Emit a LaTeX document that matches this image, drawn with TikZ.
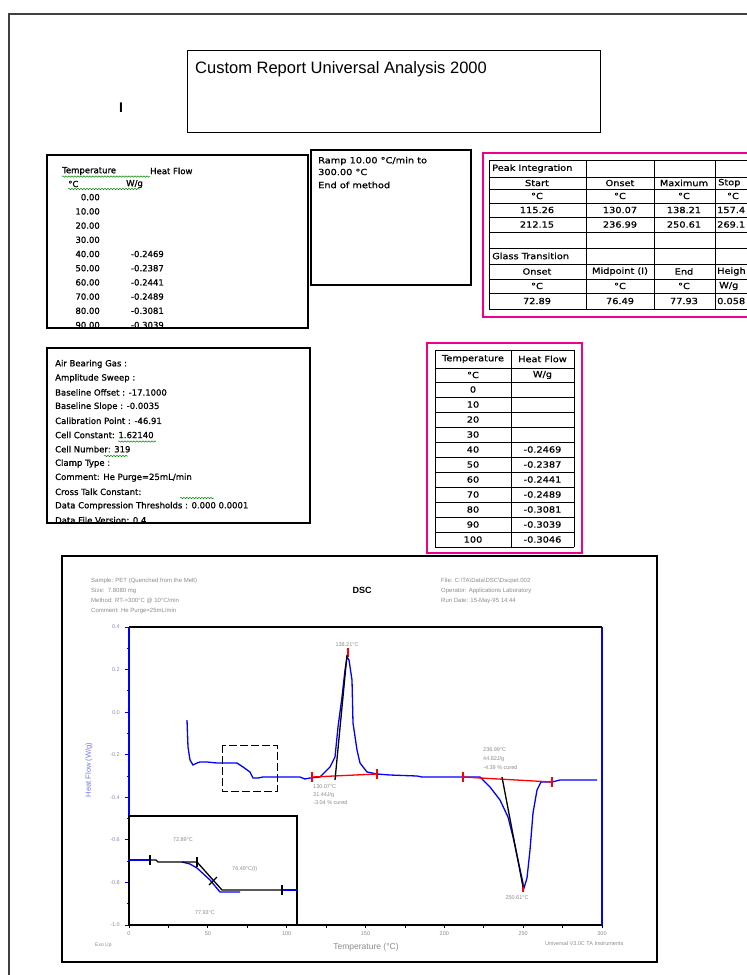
\documentclass[tikz,border=0pt]{standalone}
\usepackage{fontspec}
\setmainfont{Liberation Sans}
\newfontfamily\boxfont[FakeBold=0.8]{DejaVu Sans}
\newfontfamily\tablefont[FakeStretch=1.15, FakeBold=0.8]{DejaVu Sans}
\usetikzlibrary{decorations.pathmorphing}

\begin{document}
\begin{tikzpicture}[x=1pt, y=-1pt]

\tikzstyle{frame} = [draw, line width=1.3pt]
\tikzstyle{pinkframe} = [draw=magenta, line width=1.3pt]
\tikzstyle{rule} = [draw, line width=0.9pt]
\tikzstyle{entry} = [anchor=west, inner sep=0pt, font=\boxfont\fontsize{8.5}{10}\selectfont]
\tikzstyle{cell} = [inner sep=0pt, font=\tablefont\fontsize{8.5}{10}\selectfont]
\tikzstyle{note} = [anchor=west, inner sep=0pt, text=black!45, font=\fontsize{6}{7}\selectfont]
\tikzstyle{ticklabel} = [inner sep=0pt, text=black!45, font=\fontsize{5.5}{6}\selectfont]
\tikzstyle{flow} = [blue, line width=1.3pt]
\tikzstyle{redline} = [red, line width=1.3pt]
\tikzstyle{onsetline} = [black, line width=1.3pt]
\tikzstyle{spell} = [green!55!black, line width=0.5pt, decorate, decoration={snake, amplitude=0.7pt, segment length=3pt}]

\clip (0,0) rectangle (747,975);
\fill[white] (0,0) rectangle (747,975);
\draw[line width=2.2pt, black!75] (9,975) -- (9,14) -- (747,14);

\draw[frame, line width=1pt] (187,50) rectangle (600,132);
\node (title) [anchor=west, inner sep=0pt, font=\fontsize{16.5}{20}\selectfont] at (195,69) {Custom Report Universal Analysis 2000};
\node (cursor) [inner sep=0pt, font=\bfseries\fontsize{14}{16}\selectfont] at (121,108) {I};

\draw[frame] (47,155) rectangle (308,328);
\begin{scope}
\clip (47,155) rectangle (308,328);
\node (temphead) [entry] at (62,171) {Temperature};
\node (flowhead) [entry] at (150,171) {Heat Flow};
\node (tempunit) [entry] at (68,184) {°C};
\node (flowunit) [entry] at (126,184) {W/g};
\draw[spell] (62,176.5) -- (150,176.5);
\draw[spell] (68,189) -- (140,189);
\foreach \t/\f [count=\i] in {0.00/{},10.00/{},20.00/{},30.00/{},40.00/-0.2469,50.00/-0.2387,60.00/-0.2441,70.00/-0.2489,80.00/-0.3081,90.00/-0.3039}
{
\node [entry, anchor=east] at (100,183+14.2*\i) {\t};
\node [entry, anchor=east] at (164,183+14.2*\i) {\f};
}
\end{scope}

\draw[frame] (311,150) rectangle (471,285);
\node (ramp) [cell, anchor=west] at (318,161) {Ramp 10.00 °C/min to};
\node (rampend) [cell, anchor=west] at (318,172) {300.00 °C};
\node (methodend) [cell, anchor=west] at (318,185) {End of method};

\draw[pinkframe] (483,153) rectangle (760,317);
\foreach \y in {160,177,189,203,217,232,248,264,279,293,309}
\draw[rule] (489,\y) -- (760,\y);
\foreach \x in {489,586,654,715}
\draw[rule] (\x,160) -- (\x,309);
\node (peak) [cell, anchor=west] at (492,168.5) {Peak Integration};
\node (start) [cell] at (537,183) {Start};
\node (onset) [cell] at (620,183) {Onset};
\node (maximum) [cell] at (684,183) {Maximum};
\node (stop) [cell, anchor=west] at (718,183) {Stop};
\node (unita) [cell] at (537,196) {°C};
\node (unitb) [cell] at (620,196) {°C};
\node (unitc) [cell] at (684,196) {°C};
\node (unitd) [cell] at (733,196) {°C};
\node (starta) [cell] at (537,210) {115.26};
\node (onseta) [cell] at (620,210) {130.07};
\node (maxa) [cell] at (684,210) {138.21};
\node (stopa) [cell, anchor=west] at (717,210) {157.4};
\node (startb) [cell] at (537,224.5) {212.15};
\node (onsetb) [cell] at (620,224.5) {236.99};
\node (maxb) [cell] at (684,224.5) {250.61};
\node (stopb) [cell, anchor=west] at (717,224.5) {269.1};
\node (glass) [cell, anchor=west] at (492,256) {Glass Transition};
\node (gonset) [cell] at (537,271.5) {Onset};
\node (gmid) [cell] at (620,271.5) {Midpoint (I)};
\node (gend) [cell] at (684,271.5) {End};
\node (gheight) [cell, anchor=west] at (717,271.5) {Heigh};
\node (gunita) [cell] at (537,286) {°C};
\node (gunitb) [cell] at (620,286) {°C};
\node (gunitc) [cell] at (684,286) {°C};
\node (gunitd) [cell, anchor=west] at (719,286) {W/g};
\node (gheighta) [cell, anchor=west] at (717,301) {0.058};
\node (gonseta) [cell] at (537,301) {72.89};
\node (gmida) [cell] at (620,301) {76.49};
\node (genda) [cell] at (684,301) {77.93};

\draw[frame] (47,348) rectangle (310,523);
\begin{scope}
\clip (47,348) rectangle (310,523);
\foreach \p [count=\i] in {Air Bearing Gas :,Amplitude Sweep :,Baseline Offset : -17.1000,Baseline Slope : -0.0035,Calibration Point : -46.91,Cell Constant: 1.62140,Cell Number: 319,Clamp Type :,Comment: He Purge=25mL/min,Cross Talk Constant:,Data Compression Thresholds : 0.000 0.0001,Data File Version: 0.4}
\node [entry] at (55,349.8+14.2*\i) {\p};
\draw[spell] (118,441.5) -- (156,441.5);
\draw[spell] (104,456) -- (128,456);
\draw[spell] (180,498) -- (214,498);
\end{scope}

\draw[pinkframe] (427,343) rectangle (582,553);
\foreach \y in {350,368,382,397,412,427,442,457,472,487,502,517,532,547}
\draw[rule] (435,\y) -- (574,\y);
\foreach \x in {435,511,574}
\draw[rule] (\x,350) -- (\x,547);
\node (ttemp) [cell] at (473,359) {Temperature};
\node (tflow) [cell] at (542.5,359) {Heat Flow};
\node (ttempunit) [cell] at (473,375) {°C};
\node (tflowunit) [cell] at (542.5,375) {W/g};
\foreach \t/\f [count=\i] in {0/{},10/{},20/{},30/{},40/-0.2469,50/-0.2387,60/-0.2441,70/-0.2489,80/-0.3081,90/-0.3039,100/-0.3046}
{
\node [cell] at (473,374.5+15*\i) {\t};
\node [cell] at (542.5,374.5+15*\i) {\f};
}

\draw[frame] (62,556) rectangle (657,962);
\node (sample) [note] at (91,581) {Sample: PET (Quenched from the Melt)};
\node (size) [note] at (91,591) {Size:\ \ 7.8080 mg};
\node (method) [note] at (91,601) {Method: RT->300°C @ 10°C/min};
\node (comment) [note] at (91,611) {Comment: He Purge=25mL/min};
\node (dsc) [inner sep=0pt, font=\bfseries\fontsize{9}{10}\selectfont] at (362,590) {DSC};
\node (file) [note] at (441,581) {File: C:\textbackslash TA\textbackslash Data\textbackslash DSC\textbackslash Dscpet.002};
\node (operator) [note] at (441,591) {Operator: Applications Laboratory};
\node (rundate) [note] at (441,601) {Run Date: 15-May-95 14:44};

\draw[black, line width=1.3pt] (129,627) -- (602,627);
\draw[black, line width=1.3pt] (129,925) -- (602,925);
\draw[blue, line width=1.3pt] (129,627) -- (129,925);
\draw[blue, line width=1.3pt] (602,627) -- (602,925);
\foreach \v [count=\k from 0] in {0.4,0.2,0.0,-0.2,-0.4,-0.6,-0.8,-1.0}
{
\draw[blue, line width=1pt] (129,627+42.57*\k) -- ++(-4,0);
\node [ticklabel, text=blue!35!black!45, anchor=east] at (120,627+42.57*\k) {\v};
}
\foreach \k in {0,...,6}
\draw[blue, line width=0.8pt] (129,648.3+42.57*\k) -- ++(-2.5,0);
\foreach \k in {0,...,12}
\draw[black, line width=0.8pt] (129+39.42*\k,925) -- ++(0,3);
\foreach \v [count=\k from 0] in {0,50,100,150,200,250,300}
\node [ticklabel] at (129+78.83*\k,934) {\v};
\node (ytitle) [inner sep=0pt, rotate=90, text=blue!55, font=\fontsize{7.5}{9}\selectfont] at (89,770) {Heat Flow (W/g)};
\node (xtitle) [inner sep=0pt, text=black!45, font=\fontsize{8.5}{10}\selectfont] at (366,947) {Temperature (°C)};
\node (exoup) [note, font=\fontsize{5}{6}\selectfont] at (95,945) {Exo Up};
\node (software) [note, font=\fontsize{5.5}{6}\selectfont] at (545,944) {Universal V3.0C TA Instruments};

\draw[flow] (187,720) -- (188,747) -- (190,760) -- (193,765) -- (197,763) -- (200,762) -- (207,762) -- (217,763) -- (237,763) -- (243,767) -- (250,772) -- (253,778) -- (258,778) -- (263,777) -- (300,777) -- (305,779) -- (310,778) -- (320,777) -- (330,767) -- (335,757) -- (338,727) -- (342,697) -- (345,670) -- (347,657) -- (349,660) -- (352,680) -- (353,723) -- (357,750) -- (360,763) -- (367,772) -- (377,774) -- (390,775) -- (417,776) -- (422,777) -- (480,777) -- (490,787) -- (500,800) -- (508,817) -- (513,837) -- (518,860) -- (523,883) -- (524,888) -- (527,878) -- (530,850) -- (533,813) -- (537,790) -- (541,782) -- (552,782) -- (560,780) -- (597,780);

\draw[redline] (312,777) -- (377,774);
\draw[redline] (312,772) -- (312,782);
\draw[redline] (377,769) -- (377,779);
\draw[redline] (348,648) -- (348,657);
\draw[onsetline] (335,780) -- (347,655);
\draw[redline] (463,777) -- (552,782);
\draw[redline] (463,772) -- (463,782);
\draw[redline] (552,777) -- (552,787);
\draw[redline] (523,883) -- (523,892);
\draw[onsetline] (502,777) -- (523,887);

\node (peaktop) [ticklabel] at (347,645) {138.21°C};
\node (onsetone) [note, font=\fontsize{5.5}{6}\selectfont] at (313,787) {130.07°C};
\node (enthone) [note, font=\fontsize{5.5}{6}\selectfont] at (313,795) {31.44J/g};
\node (curedone) [note, font=\fontsize{5.5}{6}\selectfont] at (313,803) {-3.04 \% cured};
\node (onsettwo) [note, font=\fontsize{5.5}{6}\selectfont] at (483,750) {236.99°C};
\node (enthtwo) [note, font=\fontsize{5.5}{6}\selectfont] at (483,759) {44.82J/g};
\node (curedtwo) [note, font=\fontsize{5.5}{6}\selectfont] at (483,768) {-4.39 \% cured};
\node (peakbottom) [ticklabel] at (517,898) {250.61°C};

\draw[black, line width=1pt, dash pattern=on 8pt off 3pt] (222,745) rectangle (277,791);

\filldraw[fill=white, draw=black, line width=1.3pt] (129,816) rectangle (297,925);
\draw[flow] (129,860) -- (150,860);
\draw[flow] (182,862) -- (190,864) -- (197,868) -- (210,880) -- (220,892) -- (240,892);
\draw[flow] (282,890) -- (297,890);
\draw[onsetline] (150,860) -- (156,860) -- (158,862) -- (197,862) -- (222,890) -- (282,890);
\draw[onsetline] (150,855) -- (150,865);
\draw[onsetline] (197,857) -- (197,867);
\draw[onsetline] (282,885) -- (282,895);
\draw[onsetline] (209,885) -- (217,877);
\node (tgonset) [ticklabel] at (183,840) {72.89°C};
\node (tgmid) [note, font=\fontsize{5.5}{6}\selectfont] at (232,869) {76.49°C(I)};
\node (tgend) [ticklabel] at (205,913) {77.93°C};

\end{tikzpicture}
\end{document}
